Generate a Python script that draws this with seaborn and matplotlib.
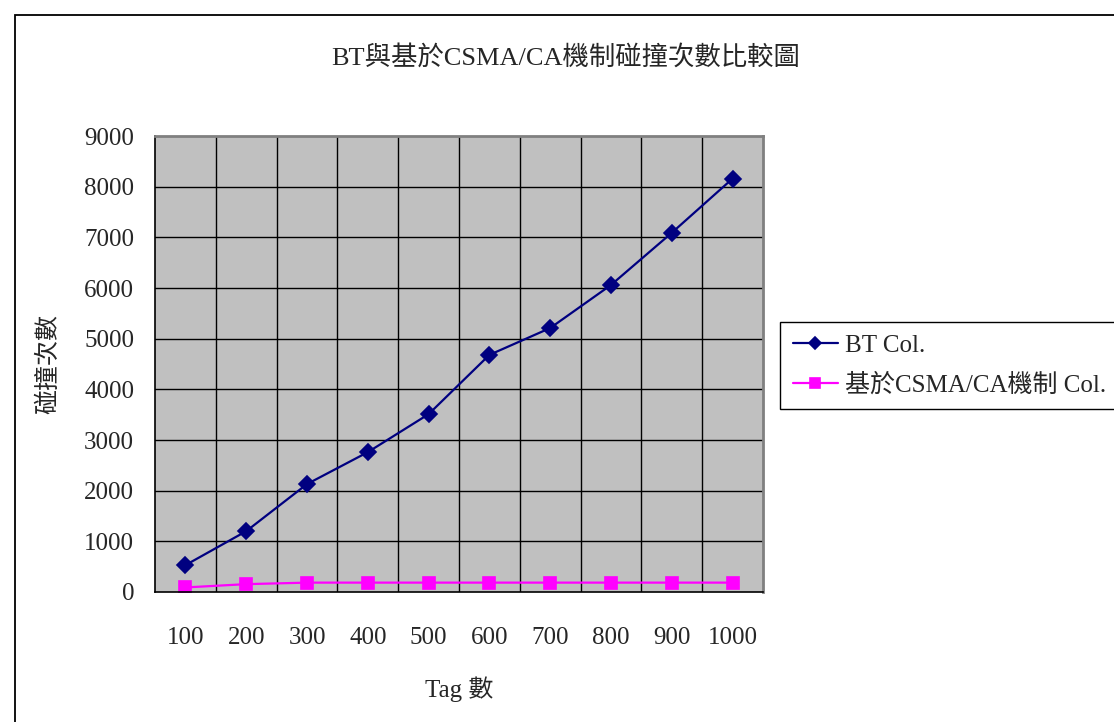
import matplotlib
matplotlib.use("Agg")
import matplotlib.pyplot as plt
from matplotlib.patches import Rectangle
from matplotlib.ticker import MultipleLocator
import seaborn as sns
import pandas as pd

# Data
tags = ["100", "200", "300", "400", "500", "600", "700", "800", "900", "1000"]
bt_col = [530, 1200, 2130, 2760, 3510, 4680, 5210, 6060, 7090, 8160]
csma_col = [90, 155, 185, 185, 185, 185, 185, 185, 185, 185]
series_names = ["BT Col.", "基於CSMA/CA機制 Col."]
title = "BT與基於CSMA/CA機制碰撞次數比較圖"
xlabel = "Tag 數"
ylabel = "碰撞次數"

sns.set_theme(style="white")
FAM = ["Liberation Serif", "Noto Sans CJK TC", "DejaVu Sans"]
plt.rcParams["font.family"] = FAM

fig = plt.figure(figsize=(11.14, 7.22), dpi=100)
fig.patch.set_facecolor("white")
ax = fig.add_axes([155 / 1114, 1 - 592 / 722, 608 / 1114, 456 / 722])
ax.set_facecolor("#C0C0C0")

df = pd.DataFrame({"tag": tags * 2,
                   "val": bt_col + csma_col,
                   "series": [series_names[0]] * len(tags) + [series_names[1]] * len(tags)})

sns.pointplot(data=df[df.series == series_names[0]], x="tag", y="val", order=tags,
              color="#000080", marker="D", markersize=8, linewidth=1.6,
              label=series_names[0], ax=ax)
sns.pointplot(data=df[df.series == series_names[1]], x="tag", y="val", order=tags,
              color="#FF00FF", marker="s", markersize=8.5, linewidth=1.6,
              label=series_names[1], ax=ax)
if ax.get_legend() is not None:
    ax.get_legend().remove()

ax.set_xlim(-0.5, len(tags) - 0.5)
ax.set_ylim(0, 9000)
ax.yaxis.set_major_locator(MultipleLocator(1000))

# Grid: horizontal at each major tick, vertical between categories
for y in range(1000, 9000, 1000):
    ax.axhline(y, color="black", lw=1.0, zorder=0.5)
for i in range(1, len(tags)):
    ax.axvline(i - 0.5, color="black", lw=1.0, zorder=0.5)

for s in ["top", "right"]:
    ax.spines[s].set_color("#808080")
    ax.spines[s].set_linewidth(2)
for s in ["left", "bottom"]:
    ax.spines[s].set_color("black")
    ax.spines[s].set_linewidth(1.2)

ax.tick_params(axis="y", length=0, pad=15, labelsize=18)
ax.tick_params(axis="x", length=0, pad=25, labelsize=18)
for lab in ax.get_xticklabels() + ax.get_yticklabels():
    lab.set_family(FAM)

ax.set_xlabel(xlabel, fontsize=18, labelpad=20, family=FAM)
ax.set_ylabel(ylabel, fontsize=18, labelpad=17, family=FAM)
fig.text(566 / 1114, 1 - 57 / 722, title, ha="center", va="center",
         fontsize=19, family=FAM)

handles, labels = ax.get_legend_handles_labels()
leg = fig.legend(handles, labels, loc="upper left",
                 bbox_to_anchor=(780 / 1114, 1 - 322 / 722),
                 prop={"family": FAM, "size": 18}, frameon=True, fancybox=False,
                 edgecolor="black", framealpha=1, borderaxespad=0,
                 handlelength=1.8, handletextpad=0.3, labelspacing=0.65,
                 borderpad=0.5, markerscale=0.8)
leg.get_frame().set_linewidth(1.0)

# Outer chart frame
fig.add_artist(Rectangle((15 / 1114, -0.1), 1.2, 1 - 15 / 722 + 0.1,
                         transform=fig.transFigure, fill=False,
                         edgecolor="black", lw=1.3, clip_on=False))

fig.savefig("out.png", dpi=100, facecolor="white")
